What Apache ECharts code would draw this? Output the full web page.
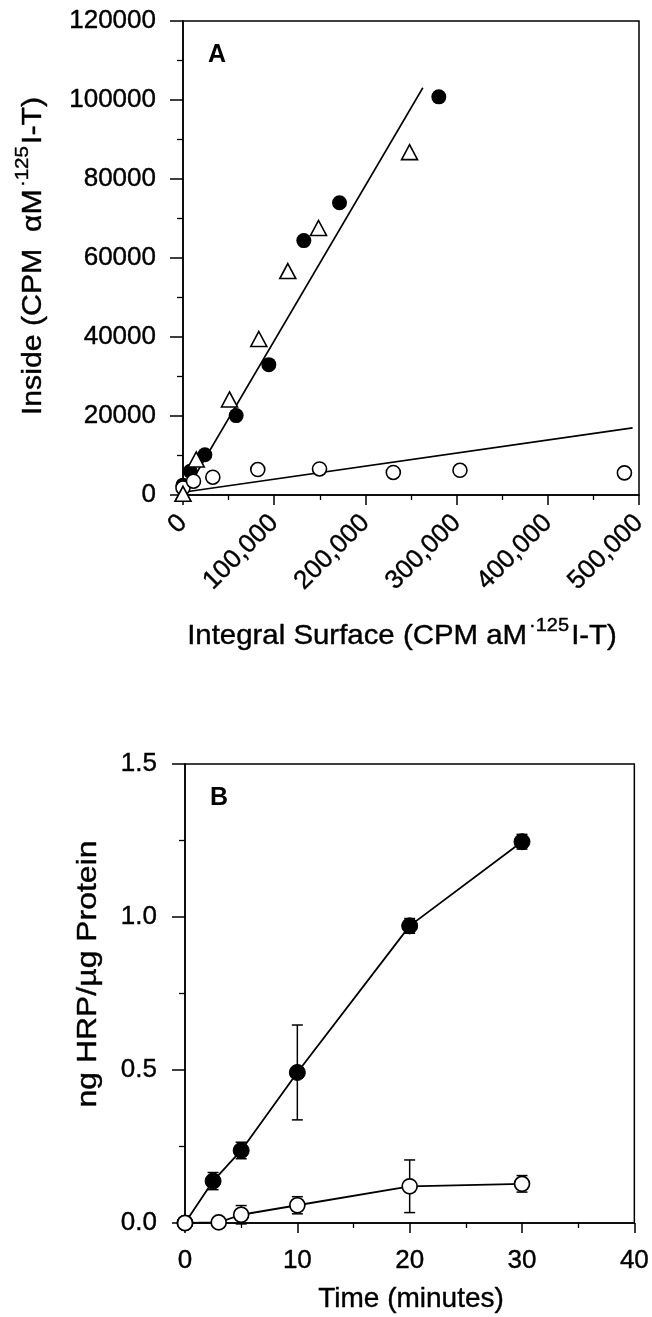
<!DOCTYPE html>
<html><head><meta charset="utf-8">
<script src="https://cdn.jsdelivr.net/npm/echarts@6/dist/echarts.min.js"></script>
<style>html,body{margin:0;padding:0;background:#fff}#c{width:652px;height:1317px}</style>
</head><body><div id="c"></div>
<script>
// ---------- Panel A: inside vs integral surface (CPM) ----------
const aFilled   = [[0,2500],[8000,6000],[24000,10200],[58300,20100],[94100,33000],[132500,64400],[171600,74000],[280500,100800]];
const aTriangle = [[0,300],[14500,9000],[51000,24200],[83100,39500],[114900,56700],[148600,67600],[248400,86800]];
const aOpen     = [[0,1800],[11500,3500],[32700,4500],[82000,6450],[149700,6600],[230600,5700],[303700,6250],[484000,5600]];
const aFitSteep   = [[2000,500],[263000,103100]];
const aFitShallow = [[0,700],[493000,17000]];
const aXRange = [0, 500000, 100000];
const aYRange = [0, 120000, 20000];

// ---------- Panel B: HRP uptake over time ----------
const bFilledTime = [0, 2.5, 5, 10, 20, 30];
const bFilled     = [0, 0.137, 0.237, 0.492, 0.971, 1.246];
const bFilledErr  = [0, 0.028, 0.027, 0.155, 0.024, 0.024];
const bOpenTime   = [0, 3, 5, 10, 20, 30];
const bOpen       = [0, 0.002, 0.027, 0.058, 0.120, 0.128];
const bOpenErr    = [0, 0, 0.030, 0.028, 0.086, 0.027];
const bXRange = [0, 40, 10];
const bYRange = [0, 1.5, 0.5];

const FONT = "'Liberation Sans', Arial, Helvetica, sans-serif";
const BLACK = '#000';

function pairs(xs, ys){ return xs.map((x,i)=>[x, ys[i]]); }
function errData(xs, ys, es){
  const out = [];
  xs.forEach((x,i)=>{ if (es[i] > 0) out.push([x, ys[i]-es[i], ys[i]+es[i]]); });
  return out;
}
function errRender(params, api){
  const x = api.value(0), lo = api.value(1), hi = api.value(2);
  const pLo = api.coord([x, lo]), pHi = api.coord([x, hi]);
  const cw = 5.5, st = {stroke: BLACK, lineWidth: 1.5};
  return {type:'group', children:[
    {type:'line', shape:{x1:pLo[0], y1:pLo[1], x2:pHi[0], y2:pHi[1]}, style:st},
    {type:'line', shape:{x1:pLo[0]-cw, y1:pLo[1], x2:pLo[0]+cw, y2:pLo[1]}, style:st},
    {type:'line', shape:{x1:pHi[0]-cw, y1:pHi[1], x2:pHi[0]+cw, y2:pHi[1]}, style:st}
  ]};
}

function label(extra){
  return Object.assign({color:BLACK, fontSize:26, fontFamily:FONT, textBorderColor:BLACK, textBorderWidth:0.4}, extra);
}
function valueAxis(gridIndex, range, opts){
  return Object.assign({
    type:'value', gridIndex, min:range[0], max:range[1], interval:range[2],
    axisLine:{show:true, onZero:false, lineStyle:{color:BLACK, width:1.5}},
    axisTick:{show:true, inside:false, length:10, lineStyle:{color:BLACK, width:1.5}},
    minorTick:{show:true, splitNumber:2, length:5, lineStyle:{color:BLACK, width:1.3}},
    splitLine:{show:false},
    axisLabel:label({})
  }, opts);
}

const titleRich = {
  m:{fontSize:28, fontFamily:FONT, fill:BLACK, lineHeight:36},
  s:{fontSize:19, fontFamily:FONT, fill:BLACK, padding:[0,2,20,2]}
};
const titleStroke = {stroke:BLACK, lineWidth:0.4};

const option = {
  animation:false,
  backgroundColor:'#fff',
  grid:[
    {left:183, top:21, width:456, height:474, show:true, borderColor:BLACK, borderWidth:1.5, backgroundColor:'transparent'},
    {left:185, top:764, width:455, height:459, show:true, borderColor:BLACK, borderWidth:1.5, backgroundColor:'transparent'}
  ],
  xAxis:[
    valueAxis(0, aXRange, {axisLabel:label({rotate:45, margin:24, formatter:v=>v.toLocaleString('en-US')})}),
    valueAxis(1, bXRange, {axisLabel:label({margin:25, formatter:v=>String(v)})})
  ],
  yAxis:[
    valueAxis(0, aYRange, {axisTick:{show:true, length:13, lineStyle:{color:BLACK, width:1.5}},
      minorTick:{show:true, splitNumber:2, length:6, lineStyle:{color:BLACK, width:1.3}},
      axisLabel:label({margin:27, formatter:v=>String(v)})}),
    valueAxis(1, bYRange, {axisTick:{show:true, length:13, lineStyle:{color:BLACK, width:1.5}},
      minorTick:{show:true, splitNumber:2, length:6, lineStyle:{color:BLACK, width:1.3}},
      axisLabel:label({margin:28, formatter:v=>v.toFixed(1)})})
  ],
  graphic:[
    {type:'text', x:217, y:55, style:{text:'A', fontSize:25, fontWeight:'bold', fontFamily:FONT, fill:BLACK, align:'center', verticalAlign:'middle'}},
    {type:'text', x:219, y:798, style:{text:'B', fontSize:25, fontWeight:'bold', fontFamily:FONT, fill:BLACK, align:'center', verticalAlign:'middle'}},
    {type:'text', x:402, y:636, scaleX:1.05, style:Object.assign({text:'{m|Integral Surface (CPM aM}{s|·125}{m|I-T)}', rich:titleRich, fill:BLACK, align:'center', verticalAlign:'middle'}, titleStroke)},
    {type:'text', x:33, y:256, rotation:Math.PI/2, scaleX:1.08, style:Object.assign({text:'{m|Inside (CPM  αM}{s|·125}{m|I-T)}', rich:titleRich, fill:BLACK, align:'center', verticalAlign:'middle'}, titleStroke)},
    {type:'text', x:411, y:1299, style:Object.assign({text:'Time (minutes)', fontSize:28, fontFamily:FONT, fill:BLACK, align:'center', verticalAlign:'middle'}, titleStroke)},
    {type:'text', x:88, y:974, rotation:Math.PI/2, scaleX:1.14, style:Object.assign({text:'ng HRP/µg Protein', fontSize:28, fontFamily:FONT, fill:BLACK, align:'center', verticalAlign:'middle'}, titleStroke)}
  ],
  series:[
    {type:'line', xAxisIndex:0, yAxisIndex:0, data:aFitShallow, symbol:'none', lineStyle:{color:BLACK, width:1.6}, z:1},
    {type:'line', xAxisIndex:0, yAxisIndex:0, data:aFitSteep, symbol:'none', lineStyle:{color:BLACK, width:1.6}, z:1},
    {type:'scatter', xAxisIndex:0, yAxisIndex:0, data:aFilled, symbol:'circle', symbolSize:15, itemStyle:{color:BLACK, opacity:1}, z:2},
    {type:'scatter', xAxisIndex:0, yAxisIndex:0, data:aOpen, symbol:'circle', symbolSize:14, itemStyle:{color:'#fff', borderColor:BLACK, borderWidth:1.6, opacity:1}, z:3},
    {type:'scatter', xAxisIndex:0, yAxisIndex:0, data:aTriangle, symbol:'triangle', symbolSize:[16,15], itemStyle:{color:'#fff', borderColor:BLACK, borderWidth:1.6, opacity:1}, z:4},

    {type:'custom', xAxisIndex:1, yAxisIndex:1, data:errData(bFilledTime, bFilled, bFilledErr), renderItem:errRender, encode:{x:0, y:[1,2]}, z:1},
    {type:'custom', xAxisIndex:1, yAxisIndex:1, data:errData(bOpenTime, bOpen, bOpenErr), renderItem:errRender, encode:{x:0, y:[1,2]}, z:1},
    {type:'line', xAxisIndex:1, yAxisIndex:1, data:pairs(bFilledTime, bFilled), symbol:'circle', symbolSize:16, showAllSymbol:true,
      lineStyle:{color:BLACK, width:1.8}, itemStyle:{color:BLACK, borderColor:BLACK, borderWidth:1}, z:2},
    {type:'line', xAxisIndex:1, yAxisIndex:1, data:pairs(bOpenTime, bOpen), symbol:'circle', symbolSize:15, showAllSymbol:true,
      lineStyle:{color:BLACK, width:1.8}, itemStyle:{color:'#fff', borderColor:BLACK, borderWidth:1.7}, z:3}
  ]
};

const chart = echarts.init(document.getElementById('c'), null, {renderer:'canvas'});
chart.setOption(option);
</script>
</body></html>
